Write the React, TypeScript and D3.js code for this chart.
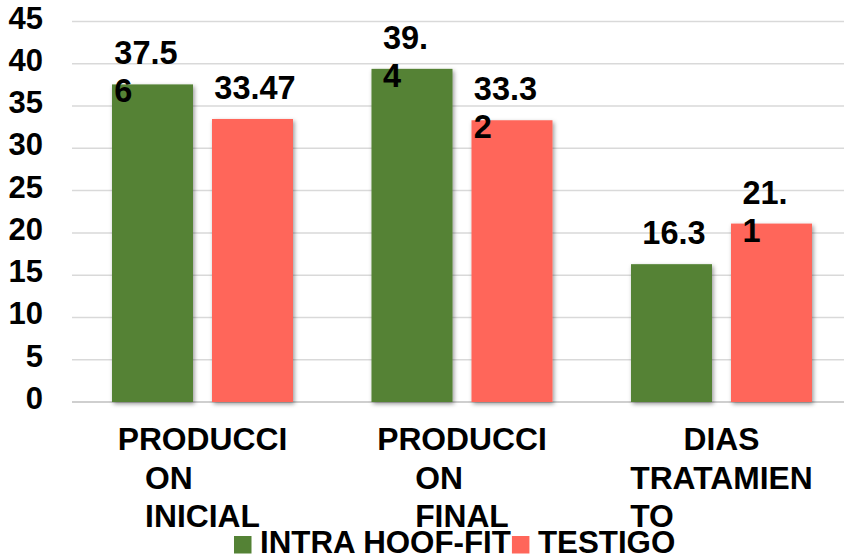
import React, { useEffect, useRef } from 'react';
import * as d3 from 'd3';

// chart data
const categories = ['PRODUCCION INICIAL', 'PRODUCCION FINAL', 'DIAS TRATAMIENTO'];
const categoryLines = [
  ['PRODUCCI', 'ON', 'INICIAL'],
  ['PRODUCCI', 'ON', 'FINAL'],
  ['DIAS', 'TRATAMIEN', 'TO'],
];
const seriesNames = ['INTRA HOOF-FIT', 'TESTIGO'];
const intraValues = [37.56, 39.4, 16.3];
const testigoValues = [33.47, 33.32, 21.1];
const intraLabels = [['37.5', '6'], ['39.', '4'], ['16.3']];
const testigoLabels = [['33.47'], ['33.3', '2'], ['21.', '1']];
const yTicks = [0, 5, 10, 15, 20, 25, 30, 35, 40, 45];

const colors = ['#548235', '#FF665A'];
const FONT = '"Liberation Sans", Arial, sans-serif';

const App = () => {
  const svgRef = useRef<SVGSVGElement>(null);
  const width = 844, height = 559;

  useEffect(() => {
    const svg = d3.select(svgRef.current);
    svg.selectAll('*').remove();

    const x0 = d3.scaleBand().domain(categories).range([72.75, 851.25]).padding(0);
    const groupW = 181;
    const x1 = d3.scaleBand().domain(seriesNames).range([0, groupW]).paddingInner(0.19);
    const groupOff = (x0.bandwidth() - groupW) / 2;
    const y = d3.scaleLinear().domain([0, 45]).range([402, 21.5]);

    const defs = svg.append('defs');
    const f = defs.append('filter').attr('id', 'shadow')
      .attr('x', '-20%').attr('y', '-20%').attr('width', '140%').attr('height', '140%');
    f.append('feDropShadow')
      .attr('dx', 1.5).attr('dy', 2).attr('stdDeviation', 2)
      .attr('flood-color', '#000').attr('flood-opacity', 0.4);

    // gridlines
    svg.append('g').selectAll('line')
      .data(yTicks)
      .enter()
      .append('line')
      .attr('x1', 72).attr('x2', width)
      .attr('y1', d => y(d)).attr('y2', d => y(d))
      .attr('stroke', d => d === 0 ? '#cfcfcf' : '#d9d9d9')
      .attr('stroke-width', d => d === 0 ? 2 : 1.5);

    // tick labels
    svg.append('g').selectAll('text')
      .data(yTicks)
      .enter()
      .append('text')
      .attr('x', 43)
      .attr('y', d => y(d) + 7)
      .attr('text-anchor', 'end')
      .attr('font-family', FONT)
      .attr('font-weight', 'bold')
      .attr('font-size', 31)
      .attr('fill', '#000')
      .text(d => d);

    const series = [
      { name: seriesNames[0], values: intraValues, labels: intraLabels, color: colors[0] },
      { name: seriesNames[1], values: testigoValues, labels: testigoLabels, color: colors[1] },
    ];

    // bars
    series.forEach(s => {
      svg.append('g').selectAll('rect')
        .data(s.values)
        .enter()
        .append('rect')
        .attr('x', (_, i) => x0(categories[i])! + groupOff + x1(s.name)!)
        .attr('y', d => y(d))
        .attr('width', x1.bandwidth())
        .attr('height', d => y(0) - y(d))
        .attr('fill', s.color)
        .attr('filter', 'url(#shadow)');
    });

    // data labels
    series.forEach(s => {
      s.values.forEach((v, i) => {
        const cx = x0(categories[i])! + groupOff + x1(s.name)! + x1.bandwidth() / 2;
        const lines = s.labels[i];
        const g = svg.append('g')
          .attr('font-family', FONT)
          .attr('font-weight', 'bold')
          .attr('font-size', 32.5)
          .attr('fill', '#000');
        const first = g.append('text').attr('y', y(v) - 20).text(lines[0]);
        const w = (first.node() as SVGTextElement).getComputedTextLength();
        const left = lines.length > 1 ? cx - 6.5 - w / 2 : cx + 2.5 - w / 2;
        first.attr('x', left);
        lines.slice(1).forEach((l, k) => {
          g.append('text').attr('x', left).attr('y', y(v) - 20 + 38 * (k + 1)).text(l);
        });
      });
    });

    // category labels
    categories.forEach((c, i) => {
      const cx = x0(c)! + x0.bandwidth() / 2;
      const lines = categoryLines[i];
      const g = svg.append('g')
        .attr('font-family', FONT)
        .attr('font-weight', 'bold')
        .attr('font-size', 31.8)
        .attr('fill', '#000');
      g.append('text').attr('x', cx).attr('y', 450).attr('text-anchor', 'middle').text(lines[0]);
      const rest = lines.slice(1).map((l, k) =>
        g.append('text').attr('y', 450 + 38.5 * (k + 1)).text(l));
      const maxW = d3.max(rest, t => (t.node() as SVGTextElement).getComputedTextLength()) || 0;
      rest.forEach(t => t.attr('x', cx - maxW / 2));
    });

    // legend
    const lg = svg.append('g');
    let lx = 234;
    series.forEach(s => {
      lg.append('rect')
        .attr('x', lx).attr('y', 536)
        .attr('width', 17.5).attr('height', 17.5)
        .attr('fill', s.color);
      const t = lg.append('text')
        .attr('x', lx + 26).attr('y', 553)
        .attr('font-family', FONT)
        .attr('font-weight', 'bold')
        .attr('font-size', 31.3)
        .attr('fill', '#000')
        .text(s.name);
      lx += 26 + (t.node() as SVGTextElement).getComputedTextLength() + 1;
    });
  }, []);

  return (
    <svg ref={svgRef} width={width} height={height}
      style={{ position: 'absolute', left: 0, top: 0, background: '#fff' }} />
  );
};

export default App;
